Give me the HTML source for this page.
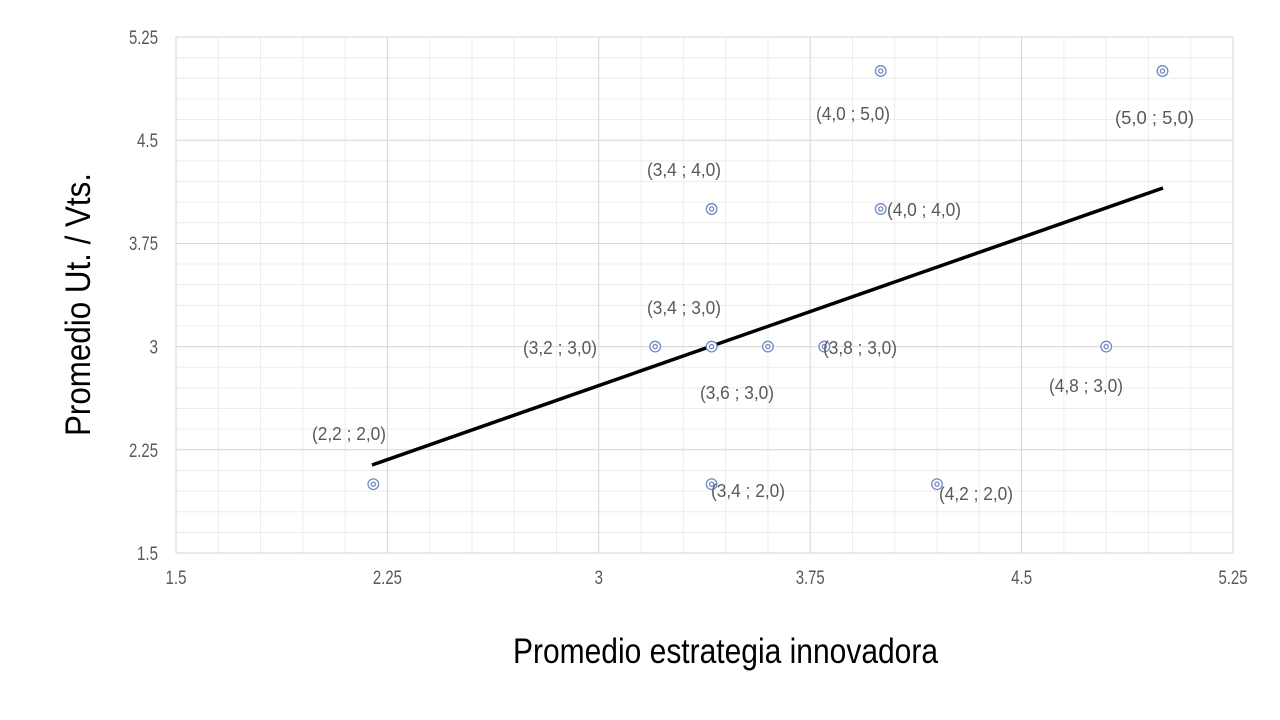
<!DOCTYPE html>
<html><head><meta charset="utf-8"><style>
html,body{margin:0;padding:0;background:#fff;}
svg{display:block;}
text{font-family:"Liberation Sans Narrow","Liberation Sans",sans-serif;}
</style></head><body>
<svg width="1280" height="720" viewBox="0 0 1280 720" xmlns="http://www.w3.org/2000/svg">
<rect width="1280" height="720" fill="#fff"/>
<g stroke="#ececec" stroke-width="1">
<line x1="218.28" y1="37" x2="218.28" y2="553"/><line x1="260.56" y1="37" x2="260.56" y2="553"/><line x1="302.84" y1="37" x2="302.84" y2="553"/><line x1="345.12" y1="37" x2="345.12" y2="553"/>
<line x1="429.68" y1="37" x2="429.68" y2="553"/><line x1="471.96" y1="37" x2="471.96" y2="553"/><line x1="514.24" y1="37" x2="514.24" y2="553"/><line x1="556.52" y1="37" x2="556.52" y2="553"/>
<line x1="641.08" y1="37" x2="641.08" y2="553"/><line x1="683.36" y1="37" x2="683.36" y2="553"/><line x1="725.64" y1="37" x2="725.64" y2="553"/><line x1="767.92" y1="37" x2="767.92" y2="553"/>
<line x1="852.48" y1="37" x2="852.48" y2="553"/><line x1="894.76" y1="37" x2="894.76" y2="553"/><line x1="937.04" y1="37" x2="937.04" y2="553"/><line x1="979.32" y1="37" x2="979.32" y2="553"/>
<line x1="1063.88" y1="37" x2="1063.88" y2="553"/><line x1="1106.16" y1="37" x2="1106.16" y2="553"/><line x1="1148.44" y1="37" x2="1148.44" y2="553"/><line x1="1190.72" y1="37" x2="1190.72" y2="553"/>
<line x1="176" y1="57.64" x2="1233" y2="57.64"/><line x1="176" y1="78.28" x2="1233" y2="78.28"/><line x1="176" y1="98.92" x2="1233" y2="98.92"/><line x1="176" y1="119.56" x2="1233" y2="119.56"/>
<line x1="176" y1="160.84" x2="1233" y2="160.84"/><line x1="176" y1="181.48" x2="1233" y2="181.48"/><line x1="176" y1="202.12" x2="1233" y2="202.12"/><line x1="176" y1="222.76" x2="1233" y2="222.76"/>
<line x1="176" y1="264.04" x2="1233" y2="264.04"/><line x1="176" y1="284.68" x2="1233" y2="284.68"/><line x1="176" y1="305.32" x2="1233" y2="305.32"/><line x1="176" y1="325.96" x2="1233" y2="325.96"/>
<line x1="176" y1="367.24" x2="1233" y2="367.24"/><line x1="176" y1="387.88" x2="1233" y2="387.88"/><line x1="176" y1="408.52" x2="1233" y2="408.52"/><line x1="176" y1="429.16" x2="1233" y2="429.16"/>
<line x1="176" y1="470.44" x2="1233" y2="470.44"/><line x1="176" y1="491.08" x2="1233" y2="491.08"/><line x1="176" y1="511.72" x2="1233" y2="511.72"/><line x1="176" y1="532.36" x2="1233" y2="532.36"/>
</g>
<g stroke="#d6d6d6" stroke-width="1">
<line x1="387.4" y1="37" x2="387.4" y2="553"/><line x1="598.8" y1="37" x2="598.8" y2="553"/><line x1="810.2" y1="37" x2="810.2" y2="553"/><line x1="1021.6" y1="37" x2="1021.6" y2="553"/>
<line x1="176" y1="140.2" x2="1233" y2="140.2"/><line x1="176" y1="243.4" x2="1233" y2="243.4"/><line x1="176" y1="346.6" x2="1233" y2="346.6"/><line x1="176" y1="449.8" x2="1233" y2="449.8"/>
<rect x="176" y="37" width="1057" height="516" fill="none"/>
</g>
<g fill="#595959" font-size="19" text-anchor="end">
<text x="158" y="44" textLength="29" lengthAdjust="spacingAndGlyphs">5.25</text>
<text x="158" y="147" textLength="21" lengthAdjust="spacingAndGlyphs">4.5</text>
<text x="158" y="250" textLength="29" lengthAdjust="spacingAndGlyphs">3.75</text>
<text x="158" y="353.6" textLength="8.5" lengthAdjust="spacingAndGlyphs">3</text>
<text x="158" y="457" textLength="29" lengthAdjust="spacingAndGlyphs">2.25</text>
<text x="158" y="560" textLength="21" lengthAdjust="spacingAndGlyphs">1.5</text>
</g>
<g fill="#595959" font-size="19">
<text x="165.5" y="584" textLength="21" lengthAdjust="spacingAndGlyphs">1.5</text>
<text x="372.9" y="584" textLength="29" lengthAdjust="spacingAndGlyphs">2.25</text>
<text x="594.5" y="584" textLength="8.5" lengthAdjust="spacingAndGlyphs">3</text>
<text x="795.7" y="584" textLength="29" lengthAdjust="spacingAndGlyphs">3.75</text>
<text x="1011.1" y="584" textLength="21" lengthAdjust="spacingAndGlyphs">4.5</text>
<text x="1218.5" y="584" textLength="29" lengthAdjust="spacingAndGlyphs">5.25</text>
</g>
<line x1="372" y1="465" x2="1163" y2="188" stroke="#000" stroke-width="3.5"/>
<g fill="#fff" stroke="#7189bf" stroke-width="1.3">
<circle cx="373.3" cy="484.2" r="5.3"/><circle cx="373.3" cy="484.2" r="2.1"/>
<circle cx="655.2" cy="346.6" r="5.3"/><circle cx="655.2" cy="346.6" r="2.1"/>
<circle cx="711.6" cy="346.6" r="5.3"/><circle cx="711.6" cy="346.6" r="2.1"/>
<circle cx="767.9" cy="346.6" r="5.3"/><circle cx="767.9" cy="346.6" r="2.1"/>
<circle cx="824.3" cy="346.6" r="5.3"/><circle cx="824.3" cy="346.6" r="2.1"/>
<circle cx="880.7" cy="209" r="5.3"/><circle cx="880.7" cy="209" r="2.1"/>
<circle cx="880.7" cy="71" r="5.3"/><circle cx="880.7" cy="71" r="2.1"/>
<circle cx="711.6" cy="209" r="5.3"/><circle cx="711.6" cy="209" r="2.1"/>
<circle cx="1106.2" cy="346.6" r="5.3"/><circle cx="1106.2" cy="346.6" r="2.1"/>
<circle cx="1162.5" cy="71" r="5.3"/><circle cx="1162.5" cy="71" r="2.1"/>
<circle cx="711.6" cy="484.2" r="5.3"/><circle cx="711.6" cy="484.2" r="2.1"/>
<circle cx="937" cy="484.2" r="5.3"/><circle cx="937" cy="484.2" r="2.1"/>
</g>
<g fill="#595959" font-size="18">
<text x="312" y="440" textLength="74" lengthAdjust="spacingAndGlyphs">(2,2 ; 2,0)</text>
<text x="647" y="176" textLength="74" lengthAdjust="spacingAndGlyphs">(3,4 ; 4,0)</text>
<text x="887" y="216" textLength="74" lengthAdjust="spacingAndGlyphs">(4,0 ; 4,0)</text>
<text x="647" y="314" textLength="74" lengthAdjust="spacingAndGlyphs">(3,4 ; 3,0)</text>
<text x="523" y="354" textLength="74" lengthAdjust="spacingAndGlyphs">(3,2 ; 3,0)</text>
<text x="823" y="354" textLength="74" lengthAdjust="spacingAndGlyphs">(3,8 ; 3,0)</text>
<text x="700" y="399" textLength="74" lengthAdjust="spacingAndGlyphs">(3,6 ; 3,0)</text>
<text x="816" y="120" textLength="74" lengthAdjust="spacingAndGlyphs">(4,0 ; 5,0)</text>
<text x="1115" y="124" textLength="79" lengthAdjust="spacingAndGlyphs">(5,0 ;  5,0)</text>
<text x="1049" y="392" textLength="74" lengthAdjust="spacingAndGlyphs">(4,8 ; 3,0)</text>
<text x="711" y="497" textLength="74" lengthAdjust="spacingAndGlyphs">(3,4 ; 2,0)</text>
<text x="939" y="500" textLength="74" lengthAdjust="spacingAndGlyphs">(4,2 ; 2,0)</text>
</g>
<text x="513" y="663" font-size="35" fill="#000" textLength="425" lengthAdjust="spacingAndGlyphs">Promedio estrategia innovadora</text>
<text transform="translate(90,436) rotate(-90)" x="0" y="0" font-size="35" fill="#000" textLength="263" lengthAdjust="spacingAndGlyphs">Promedio  Ut. / Vts.</text>
</svg>
</body></html>
